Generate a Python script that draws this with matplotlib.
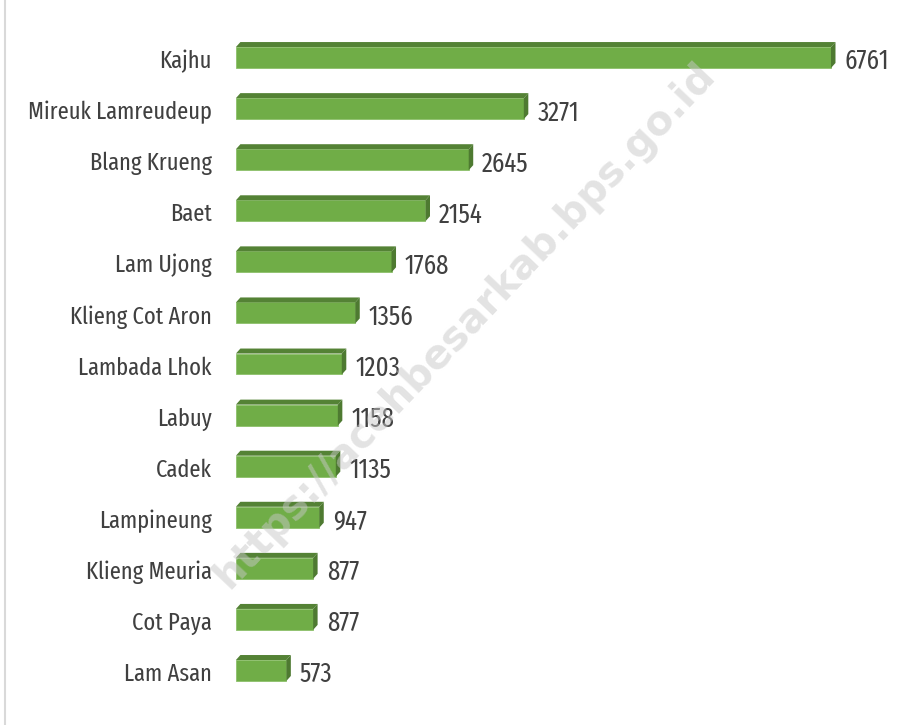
import matplotlib

matplotlib.use("Agg")
import matplotlib.pyplot as plt
from matplotlib.patches import Polygon

# data, top to bottom as shown
villages = [
    "Kajhu", "Mireuk Lamreudeup", "Blang Krueng", "Baet", "Lam Ujong",
    "Klieng Cot Aron", "Lambada Lhok", "Labuy", "Cadek", "Lampineung",
    "Klieng Meuria", "Cot Paya", "Lam Asan",
]
population = [6761, 3271, 2645, 2154, 1768, 1356, 1203, 1158, 1135, 947, 877, 877, 573]

FRONT = "#70ad47"
TOP = "#548235"
SIDE = "#4e7a31"
TEXT = "#404040"

plt.rcParams["font.family"] = ["Fira Sans Extra Condensed", "DejaVu Sans"]

fig = plt.figure(figsize=(8.97, 7.25), dpi=100)
fig.patch.set_facecolor("#ffffff")
ax = fig.add_axes([0.263, 0.0, 0.737, 1.0])
ax.set_axis_off()

n = len(villages)
ys = list(range(n - 1, -1, -1))
xmax = 7511
ax.set_xlim(0, xmax)
ax.set_ylim(-1.067, n - 1 + 1.126)

bar_h = 0.41
dx = xmax * 4.5 / 661      # depth in data units (~4.5 px)
dy = 5 / 51.08             # depth in data units (~5 px)

# pick a size so the longest label is as wide as in the reference (~184 px)
renderer = fig.canvas.get_renderer()
probe = fig.text(0, 0, "Mireuk Lamreudeup", fontsize=20)
size = 20 * 184 / probe.get_window_extent(renderer).width
probe.remove()
value_size = size * 1.1

for y, v in zip(ys, population):
    b, t = y - bar_h / 2, y + bar_h / 2
    ax.barh(y, v, height=bar_h, color=FRONT, edgecolor="#8cc06a", linewidth=0.6, zorder=3)
    ax.add_patch(Polygon([(0, t), (dx, t + dy), (v + dx, t + dy), (v, t)],
                         closed=True, facecolor=TOP, edgecolor="none", zorder=3))
    ax.add_patch(Polygon([(v, t), (v + dx, t + dy), (v + dx, b + dy), (v, b)],
                         closed=True, facecolor=SIDE, edgecolor="none", zorder=3))
    ax.annotate(f"{v}", (v + dx, y), xytext=(6.5, -1), textcoords="offset points",
                va="center_baseline", ha="left", fontsize=value_size, color=TEXT, zorder=4)

for y, name in zip(ys, villages):
    ax.annotate(name, (0, y), xytext=(-17.5, -1), textcoords="offset points",
                va="center_baseline", ha="right", fontsize=size, color=TEXT,
                annotation_clip=False)

# left frame line
fig.add_artist(plt.Line2D([0.0058, 0.0058], [0, 1], color="#d9d9d9", linewidth=1.5))

# watermark
fig.text(0.518, 0.552, "https://acehbesarkab.bps.go.id", rotation=46.5,
         ha="center", va="center", fontsize=29, fontweight="bold",
         family="DejaVu Sans", color="#c8c8c8", alpha=0.5, zorder=10)

fig.savefig("out.png", dpi=100, facecolor=fig.get_facecolor())
plt.close(fig)
